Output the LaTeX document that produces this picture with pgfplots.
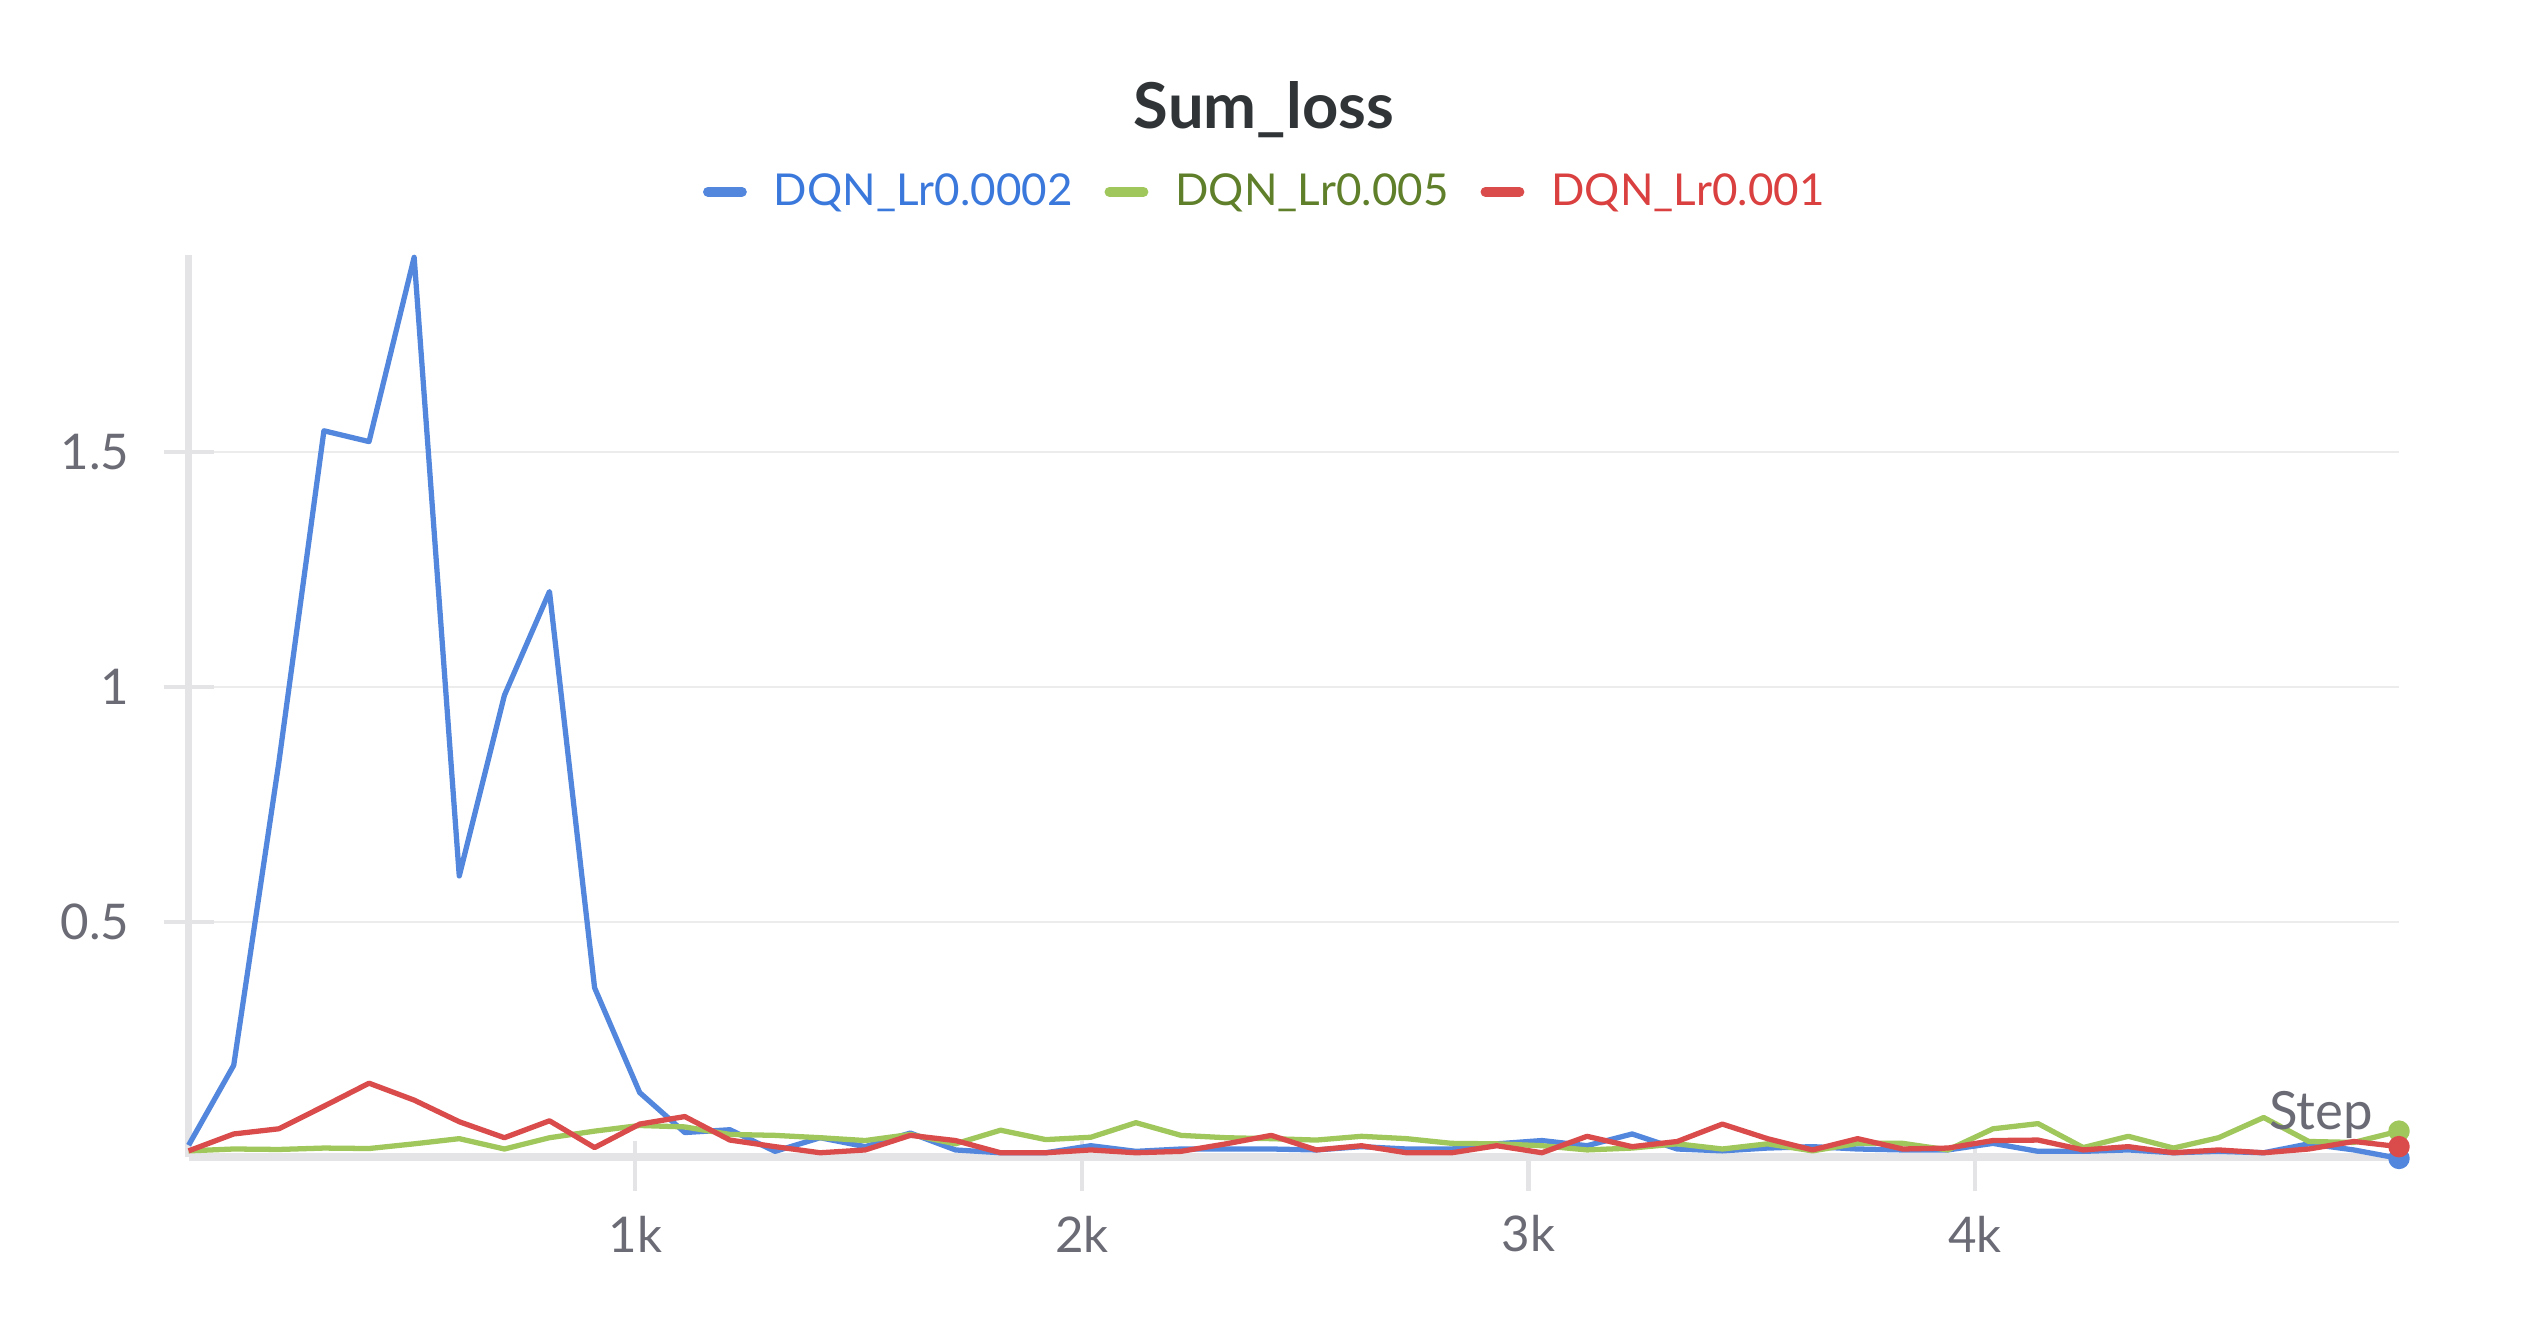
\documentclass[border=0pt]{standalone}
\usepackage{fontspec}
\setmainfont{Lato}
\usepackage{pgfplots}
\pgfplotsset{compat=1.18}
\definecolor{cblue}{HTML}{5387DD}
\definecolor{cgreen}{HTML}{A0C75C}
\definecolor{cred}{HTML}{DA4C4C}
\definecolor{tblue}{HTML}{3B78DC}
\definecolor{tgreen}{HTML}{5F7F2A}
\definecolor{tred}{HTML}{D9403F}
\definecolor{axgrey}{HTML}{E4E4E7}
\definecolor{gridgrey}{HTML}{ECECEC}
\definecolor{labgrey}{HTML}{6B6B76}
\definecolor{titlegrey}{HTML}{303436}
\pgfplotstableread{
x blue green red
0    0.025 0.013 0.013
101  0.195 0.017 0.049
202  0.839 0.016 0.060
303  1.545 0.019 0.108
404  1.522 0.018 0.157
505  1.914 0.028 0.121
606  0.598 0.039 0.075
707  0.982 0.017 0.041
808  1.203 0.041 0.077
909  0.360 0.055 0.020
1010 0.137 0.067 0.070
1111 0.052 0.064 0.086
1212 0.058 0.048 0.036
1313 0.012 0.046 0.022
1414 0.041 0.041 0.009
1515 0.022 0.035 0.015
1616 0.051 0.048 0.046
1717 0.015 0.028 0.035
1818 0.009 0.057 0.009
1919 0.009 0.037 0.009
2020 0.024 0.042 0.015
2121 0.012 0.073 0.009
2222 0.017 0.046 0.012
2323 0.017 0.041 0.028
2424 0.017 0.039 0.046
2525 0.015 0.036 0.015
2626 0.022 0.044 0.024
2727 0.017 0.039 0.009
2828 0.017 0.029 0.009
2929 0.028 0.028 0.024
3030 0.035 0.024 0.009
3131 0.024 0.015 0.044
3232 0.049 0.019 0.022
3333 0.017 0.028 0.033
3434 0.013 0.017 0.070
3535 0.019 0.028 0.039
3636 0.022 0.013 0.015
3737 0.017 0.029 0.039
3838 0.015 0.029 0.017
3939 0.015 0.015 0.019
4040 0.029 0.060 0.035
4141 0.012 0.071 0.036
4242 0.012 0.020 0.015
4343 0.015 0.044 0.022
4444 0.009 0.019 0.009
4545 0.012 0.041 0.015
4646 0.009 0.084 0.009
4747 0.028 0.033 0.017
4848 0.015 0.031 0.033
4949 -0.003 0.055 0.022
}\losstable
\begin{document}
\begin{tikzpicture}
\begin{axis}[
  at={(1.886cm,1.71cm)}, anchor=origin,
  scale only axis,
  width=22.104cm, height=9.02cm,
  xmin=0, xmax=4949, ymin=0, ymax=1.919,
  clip=false,
  axis x line*=bottom, axis y line*=left,
  axis line style={-, draw=axgrey, line width=2pt},
  xtick={1000,2000,3000,4000},
  xticklabels={1k,2k,3k,4k},
  ytick={0.5,1,1.5},
  yticklabels={0.5,1,1.5},
  ymajorgrids,
  grid style={draw=gridgrey, line width=0.8pt},
  tick align=center,
  major tick length=0.5cm,
  xtick style={draw=axgrey, line width=1.25pt, yshift=-0.095cm},
  ytick style={draw=axgrey, line width=1.1pt},
  tick label style={font=\fontsize{14}{16}\selectfont, text=labgrey},
  yticklabel style={anchor=east, xshift=-0.22cm},
  xticklabel style={anchor=center, yshift=-0.52cm},
  xlabel={Step},
  xlabel style={at={(axis description cs:0.9647,0.0466)}, anchor=center, font=\fontsize{15}{17}\selectfont, text=labgrey},
  legend columns=3,
  legend style={at={(axis description cs:0.488,1.070)}, anchor=center, draw=none, fill=none,
    font=\fontsize{12.5}{15}\selectfont, column sep=0.2cm,
    /tikz/every even column/.append style={column sep=0.25cm}},
  legend image code/.code={\draw[line width=2.8pt, line cap=round, #1] (0.02cm,0cm) -- (0.36cm,0cm);},
  every axis plot/.append style={line width=1.5pt, line join=round},
]
\addplot[color=cblue, mark=*, mark indices={50}, mark size=2.3pt, mark options={fill=cblue, draw=cblue}] table[x=x, y=blue] {\losstable};
\addlegendentry{\textcolor{tblue}{DQN\_Lr0.0002}}
\addplot[color=cgreen, mark=*, mark indices={50}, mark size=2.3pt, mark options={fill=cgreen, draw=cgreen}] table[x=x, y=green] {\losstable};
\addlegendentry{\textcolor{tgreen}{DQN\_Lr0.005}}
\addplot[color=cred, mark=*, mark indices={50}, mark size=2.3pt, mark options={fill=cred, draw=cred}] table[x=x, y=red] {\losstable};
\addlegendentry{\textcolor{tred}{DQN\_Lr0.001}}
\node[font=\bfseries\fontsize{18}{20}\selectfont, text=titlegrey] at (axis description cs:0.4865,1.161) {Sum\_loss};
\end{axis}
\pgfresetboundingbox
\path (0,0) rectangle (25.28cm,13.28cm);
\end{tikzpicture}
\end{document}
